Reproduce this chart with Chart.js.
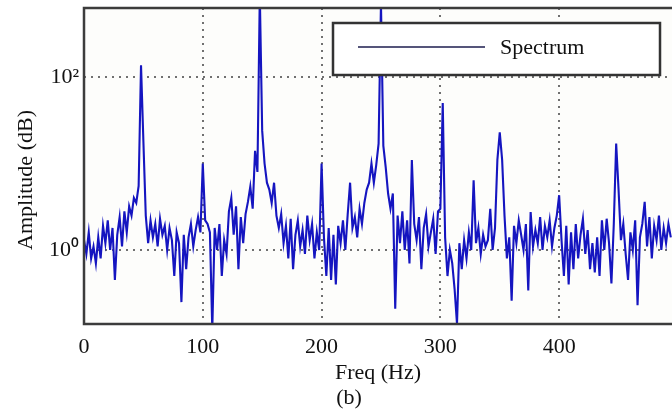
<!DOCTYPE html>
<html>
<head>
<meta charset="utf-8">
<script src="https://cdn.jsdelivr.net/npm/chart.js@4/dist/chart.umd.min.js"></script>
<style>
  html, body { margin: 0; padding: 0; background: #ffffff; }
  #wrap { width: 672px; height: 411px; position: relative; }
</style>
</head>
<body>
<div id="wrap"><canvas id="spectrum"></canvas></div>
<script>
// Данные спектра: шаг по частоте 2 Гц, начиная с 0
const FREQ_STEP = 2;
const AMPLITUDE = [
  1.3, 0.9, 1.6, 0.8, 1.1,    // 0
  0.7, 1.4, 0.8, 1.9, 1.2,    // 10
  2.2, 1.0, 1.8, 0.45, 1.5,   // 20
  2.4, 1.1, 2.8, 1.6, 3.2,    // 30
  2.5, 4.0, 3.5, 5.5, 137,    // 40
  18, 2.5, 1.2, 2.2, 1.4,     // 50
  2.0, 1.1, 2.3, 1.5, 1.9,    // 60
  1.0, 1.8, 1.3, 0.5, 1.6,    // 70
  1.2, 0.25, 1.5, 0.6, 1.4,   // 80
  2.0, 1.1, 1.7, 2.4, 1.6,    // 90
  10, 2.2, 2.0, 1.6, 0.12,    // 100
  1.8, 1.0, 2.0, 0.5, 1.3,    // 110
  0.9, 2.8, 4.0, 1.5, 3.2,    // 120
  0.6, 2.4, 1.2, 2.6, 3.6,    // 130
  5.4, 3.0, 14, 8, 900,       // 140
  24, 10, 6, 5, 3.5,          // 150
  6, 2.5, 1.8, 2.6, 1.2,      // 160
  1.9, 0.8, 2.3, 0.6, 1.5,    // 170
  2.2, 1.1, 1.7, 0.9, 2.5,    // 180
  1.3, 2.0, 0.8, 1.6, 1.0,    // 190
  10, 1.4, 0.5, 1.8, 0.45,    // 200
  1.5, 0.4, 1.9, 1.2, 2.2,    // 210
  1.0, 2.6, 6, 1.8, 2.4,      // 220
  1.4, 3.0, 2.0, 3.5, 5,      // 230
  6, 10, 6, 9.6, 17,          // 240
  700, 16, 9, 4.5, 3.0,       // 250
  4.5, 0.21, 2.5, 1.2, 2.8,   // 260
  1.0, 2.2, 0.7, 11, 2.0,     // 270
  1.3, 2.4, 0.6, 1.8, 2.6,    // 280
  1.1, 1.6, 2.3, 0.9, 2.8,    // 290
  3.0, 50, 1.4, 0.5, 1.0,     // 300
  0.7, 0.35, 0.14, 1.2, 0.6,  // 310
  1.3, 0.8, 1.6, 1.0, 6.4,    // 320
  1.2, 1.8, 0.9, 1.5, 1.1,    // 330
  1.3, 3.0, 1.0, 1.8, 11,     // 340
  23, 11, 2.5, 0.8, 1.4,      // 350
  0.26, 1.9, 1.2, 2.2, 1.5,   // 360
  1.0, 2.0, 0.34, 2.75, 1.1,  // 370
  1.7, 1.2, 2.4, 1.0, 1.9,    // 380
  1.4, 2.2, 1.1, 1.8, 2.5,    // 390
  4.3, 1.3, 0.5, 1.9, 0.4,    // 400
  1.6, 0.6, 2.0, 0.8, 1.5,    // 410
  2.3, 0.9, 1.7, 0.6, 1.2,    // 420
  0.55, 1.4, 0.5, 2.2, 1.0,   // 430
  2.3, 1.2, 0.41, 2.0, 17,    // 440
  5, 1.3, 2.0, 0.9, 0.45,     // 450
  1.6, 1.0, 2.2, 0.23, 1.4,   // 460
  2.0, 3.6, 1.1, 2.4, 0.8,    // 470
  1.9, 1.3, 2.5, 1.0, 1.8,    // 480
  1.2, 2.0, 1.4               // 490
];

// Деления осей
const X_TICKS = [0, 100, 200, 300, 400];
const Y_TICKS = [1, 100];
const Y_TICK_LABELS = ['10\u2070', '10\u00B2'];
const X_RANGE = [0, 495];
const Y_RANGE = [0.1395, 628];

const SERIES_LABEL = 'Spectrum';
const FONT = "'Liberation Serif', 'Times New Roman', serif";

const points = AMPLITUDE.map((v, i) => ({ x: i * FREQ_STEP, y: v }));

// Убираем автоматические отступы шкал под крайние подписи
function zeroPadding(s) {
    s.paddingTop = 0;
    s.paddingBottom = 0;
    s.paddingLeft = 0;
    s.paddingRight = 0;
}

// Сетка, рамка, подписи и легенда в стиле MATLAB
const matlabFrame = {
    id: 'matlabFrame',
    beforeDatasetsDraw(chart) {
        const { ctx, chartArea: a, scales } = chart;
        ctx.save();
        ctx.fillStyle = '#fdfdfb';
        ctx.fillRect(a.left, a.top, a.right - a.left, a.bottom - a.top);
        ctx.strokeStyle = '#707070';
        ctx.lineWidth = 2;
        ctx.setLineDash([2, 5]);
        X_TICKS.slice(1).forEach(v => {
            const x = Math.round(scales.x.getPixelForValue(v));
            ctx.beginPath(); ctx.moveTo(x, a.top); ctx.lineTo(x, a.bottom); ctx.stroke();
        });
        Y_TICKS.forEach(v => {
            const y = Math.round(scales.y.getPixelForValue(v));
            ctx.beginPath(); ctx.moveTo(a.left, y); ctx.lineTo(a.right, y); ctx.stroke();
        });
        ctx.restore();
    },
    afterDatasetsDraw(chart) {
        const { ctx, chartArea: a } = chart;
        ctx.save();
        ctx.strokeStyle = '#3c3c3c';
        ctx.lineWidth = 2.5;
        ctx.beginPath();
        ctx.moveTo(a.right + 5, a.top);
        ctx.lineTo(a.left, a.top);
        ctx.lineTo(a.left, a.bottom);
        ctx.lineTo(a.right + 5, a.bottom);
        ctx.stroke();

        // Легенда
        ctx.fillStyle = '#ffffff';
        ctx.fillRect(333, 23, 327, 52);
        ctx.strokeStyle = '#333333';
        ctx.lineWidth = 2.5;
        ctx.strokeRect(333, 23, 327, 52);
        ctx.strokeStyle = '#55557a';
        ctx.lineWidth = 2;
        ctx.beginPath(); ctx.moveTo(358, 47); ctx.lineTo(485, 47); ctx.stroke();
        ctx.fillStyle = '#111111';
        ctx.font = '22px ' + FONT;
        ctx.textAlign = 'left';
        ctx.textBaseline = 'middle';
        ctx.fillText(SERIES_LABEL, 500, 48);

        // Подписи осей
        ctx.textAlign = 'center';
        ctx.fillText('Freq (Hz)', 378, 373);
        ctx.fillText('(b)', 349, 398);
        ctx.translate(26, 180);
        ctx.rotate(-Math.PI / 2);
        ctx.fillText('Amplitude (dB)', 0, 0);
        ctx.restore();
    }
};

const ctx = document.getElementById('spectrum').getContext('2d');
new Chart(ctx, {
    type: 'line',
    data: {
        datasets: [{
            label: SERIES_LABEL,
            data: points,
            borderColor: '#1515c0',
            borderWidth: 2.1,
            pointRadius: 0,
            tension: 0,
            fill: false
        }]
    },
    options: {
        responsive: true,
        maintainAspectRatio: false,
        animation: false,
        layout: { padding: { left: 0, top: 8, right: 0, bottom: 0 } },
        plugins: {
            legend: { display: false },
            tooltip: { enabled: false }
        },
        scales: {
            x: {
                type: 'linear',
                min: X_RANGE[0],
                max: X_RANGE[1],
                afterBuildTicks: s => { s.ticks = X_TICKS.map(v => ({ value: v })); },
                afterFit: s => { s.height = 87; zeroPadding(s); },
                grid: { display: false, drawTicks: false },
                border: { display: false },
                ticks: {
                    color: '#111111',
                    padding: 10,
                    maxRotation: 0,
                    font: { family: FONT, size: 22 }
                }
            },
            y: {
                type: 'logarithmic',
                min: Y_RANGE[0],
                max: Y_RANGE[1],
                afterBuildTicks: s => { s.ticks = Y_TICKS.map(v => ({ value: v })); },
                afterFit: s => { s.width = 84; zeroPadding(s); },
                grid: { display: false, drawTicks: false },
                border: { display: false },
                ticks: {
                    color: '#111111',
                    padding: 5,
                    font: { family: FONT, size: 22 },
                    callback: v => Y_TICK_LABELS[Y_TICKS.indexOf(v)] || ''
                }
            }
        }
    },
    plugins: [matlabFrame]
});
</script>
</body>
</html>
